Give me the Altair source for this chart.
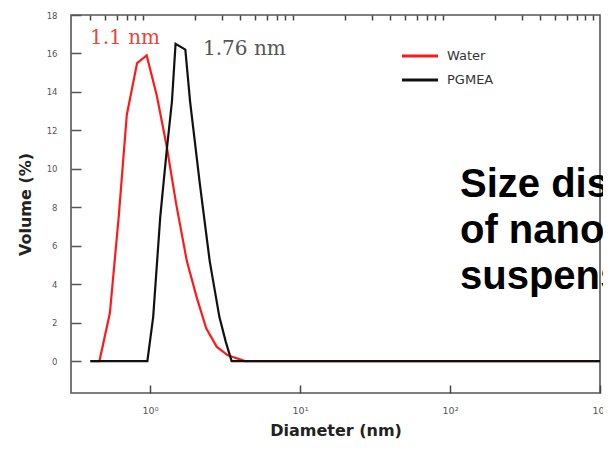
import altair as alt
import pandas as pd

# ---- data ----
SERIES = ["Water", "PGMEA"]
COLORS = ["#ff1a1a", "#111111"]

water_d = [0.40, 0.46, 0.54, 0.62, 0.70, 0.82, 0.95, 1.11, 1.29, 1.50, 1.76, 2.05, 2.37, 2.78, 3.30, 4.30, 1000]
water_v = [0, 0, 2.5, 7.6, 12.8, 15.5, 15.9, 13.8, 11.2, 8.1, 5.2, 3.3, 1.7, 0.75, 0.3, 0, 0]

pgmea_d = [0.40, 0.96, 1.05, 1.17, 1.29, 1.40, 1.48, 1.72, 1.85, 2.15, 2.50, 2.90, 3.20, 3.50, 1000]
pgmea_v = [0, 0, 2.3, 7.5, 10.9, 13.5, 16.5, 16.2, 13.5, 9.2, 5.2, 2.3, 1.0, 0, 0]

Y_TICKS = [0, 2, 4, 6, 8, 10, 12, 14, 16, 18]
X_MAJOR = [1, 10, 100, 1000]
X_MINOR = [0.4, 0.5, 0.6, 0.7, 0.8, 0.9,
           2, 3, 4, 5, 6, 7, 8, 9,
           20, 30, 40, 50, 60, 70, 80, 90,
           200, 300, 400, 500, 600, 700, 800, 900]
PEAK_LABELS = ["1.1 nm", "1.76 nm"]
SIDE_TEXT = ["Size distribution", "of nanoparticles", "suspension"]

water = pd.DataFrame({"series": SERIES[0], "d": water_d, "v": water_v})
pgmea = pd.DataFrame({"series": SERIES[1], "d": pgmea_d, "v": pgmea_v})

W, H = 529, 378
WIDE = "DejaVu Sans"
xscale = alt.Scale(type="log", domain=[0.2973, 1000], nice=False)
yscale = alt.Scale(domain=[-1.66, 18], nice=False, zero=False)
cscale = alt.Scale(domain=SERIES, range=COLORS)

yaxis = alt.Axis(values=Y_TICKS, offset=-10, tickSize=10, domain=False, grid=False,
                 labelPadding=14, labelFont=WIDE, labelFontSize=8.5, labelColor="#555",
                 tickColor="#555", tickWidth=1.5,
                 title="Volume (%)", titleFont=WIDE, titleFontSize=16, titleFontWeight="bold",
                 titleColor="#222", titlePadding=13)

xmajor = alt.Axis(values=X_MAJOR, offset=-8, tickSize=8, domain=False, grid=False,
                  labelPadding=12, labelFont=WIDE, labelFontSize=9.5, labelColor="#555",
                  tickColor="#444", tickWidth=1.5, labelFlush=False,
                  labelExpr="datum.value == 1 ? '10⁰' : datum.value == 10 ? '10¹' : datum.value == 100 ? '10²' : '10³'",
                  title="Diameter (nm)", titleFont=WIDE, titleFontSize=16, titleFontWeight="bold",
                  titleColor="#222", titlePadding=8)

xminor = alt.Axis(values=X_MINOR, offset=-5, tickSize=5, domain=False, grid=False,
                  labels=False, tickColor="#444", tickWidth=1.5, title=None)

red = alt.Chart(water).mark_line(strokeWidth=2.2).encode(
    x=alt.X("d:Q", scale=xscale, axis=xmajor),
    y=alt.Y("v:Q", scale=yscale, axis=yaxis),
    color=alt.Color("series:N", scale=cscale, legend=None),
)
black = alt.Chart(pgmea).mark_line(strokeWidth=2.2).encode(
    x=alt.X("d:Q", scale=xscale, axis=xminor),
    y=alt.Y("v:Q", scale=yscale, axis=yaxis),
    color=alt.Color("series:N", scale=cscale, legend=None),
)

one = pd.DataFrame({"k": [0]})
ann1 = alt.Chart(one).mark_text(font="DejaVu Serif", fontSize=20, align="left",
                                baseline="middle", color="#e8453c").encode(
    x=alt.value(19), y=alt.value(23), text=alt.value(PEAK_LABELS[0]))
ann2 = alt.Chart(one).mark_text(font="DejaVu Serif", fontSize=20, align="left",
                                baseline="middle", color="#555").encode(
    x=alt.value(132), y=alt.value(34), text=alt.value(PEAK_LABELS[1]))

legend_layers = []
for i, (name, col) in enumerate(zip(SERIES, COLORS)):
    ld = pd.DataFrame({"series": [name]})
    yy = 41 + 24 * i
    legend_layers.append(alt.Chart(ld).mark_rule(strokeWidth=3, color=col).encode(
        x=alt.value(331), x2=alt.value(367), y=alt.value(yy)))
    legend_layers.append(alt.Chart(ld).mark_text(align="left", baseline="middle",
                                                 font=WIDE, fontSize=13, color="#333").encode(
        x=alt.value(376), y=alt.value(yy), text=alt.Text("series:N")))

side = alt.Chart(one).mark_text(align="left", baseline="alphabetic", fontSize=40,
                                font="Liberation Sans", fontWeight="bold", color="#000",
                                lineHeight=46).encode(
    x=alt.value(389), y=alt.value(182), text=alt.value(SIDE_TEXT))

chart = alt.layer(red, black, ann1, ann2, *legend_layers, side).resolve_axis(
    x="independent"
).properties(
    width=W, height=H,
    autosize=alt.AutoSizeParams(type="none"),
    padding={"left": 63, "top": 7, "right": 3, "bottom": 48},
).configure_view(
    stroke="#555", strokeWidth=1.6
)

chart.save("out.html", embed_options={"renderer": "svg", "actions": False})
